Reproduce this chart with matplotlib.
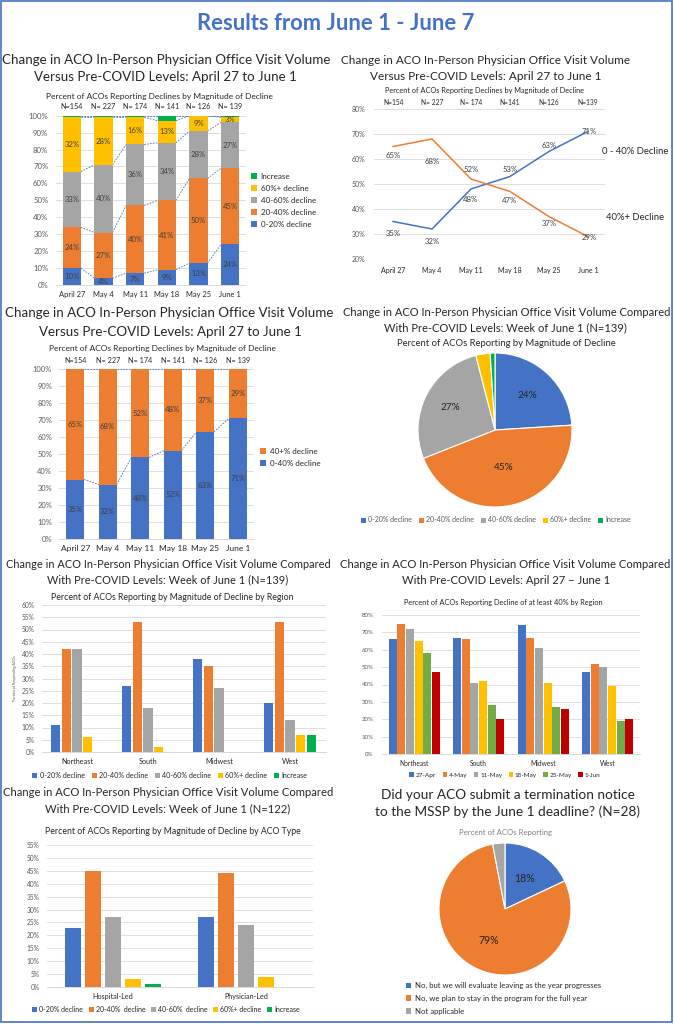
import matplotlib
matplotlib.use('Agg')
import matplotlib.pyplot as plt
from matplotlib.patches import Patch, Rectangle
import numpy as np

W, H = 674, 1024
plt.rcParams['font.family'] = ['Lato', 'DejaVu Sans']

# ---------------- data ----------------
weeks = ['April 27', 'May 4', 'May 11', 'May 18', 'May 25', 'June 1']
n_labels = ['N=154', 'N= 227', 'N= 174', 'N= 141', 'N= 126', 'N= 139']
n_labels_line = ['N=154', 'N= 227', 'N= 174', 'N=141', 'N=126', 'N=139']

mag_series = ['0-20% decline', '20-40% decline', '40-60% decline', '60%+ decline', 'Increase']
mag_0_20 = [10, 4, 7, 9, 13, 24]
mag_20_40 = [24, 27, 40, 41, 50, 45]
mag_40_60 = [33, 40, 36, 34, 28, 27]
mag_60_plus = [32, 28, 16, 13, 9, 3]
mag_increase = [1, 1, 1, 3, 0, 1]

line_series = ['0 - 40% Decline', '40%+ Decline']
line_0_40 = [35, 32, 48, 53, 63, 71]
line_40_plus = [65, 68, 52, 47, 37, 29]

bar2_series = ['0-40% decline', '40+% decline']
bar_0_40 = [35, 32, 48, 52, 63, 71]
bar_40_plus = [65, 68, 52, 48, 37, 29]

pie_june1 = [24, 45, 27, 3, 1]

regions = ['Northeast', 'South', 'Midwest', 'West']
reg_0_20 = [11, 27, 38, 20]
reg_20_40 = [42, 53, 35, 53]
reg_40_60 = [42, 18, 26, 13]
reg_60_plus = [6, 2, 0, 7]
reg_increase = [0, 0, 0, 7]

weeks_short = ['27-Apr', '4-May', '11-May', '18-May', '25-May', '1-Jun']
reg40_27apr = [66, 67, 74, 47]
reg40_4may = [75, 66, 67, 52]
reg40_11may = [72, 41, 61, 50]
reg40_18may = [65, 42, 41, 39]
reg40_25may = [58, 28, 27, 19]
reg40_1jun = [47, 20, 26, 20]

aco_types = ['Hospital-Led', 'Physician-Led']
type_series = ['0-20% decline', '20-40%  decline', '40-60%  decline', '60%+ decline', 'Increase']
type_0_20 = [23, 27]
type_20_40 = [45, 44]
type_40_60 = [27, 24]
type_60_plus = [3, 4]
type_increase = [1, 0]

term_labels = ['No, but we will evaluate leaving as the year progresses',
               'No, we plan to stay in the program for the full year',
               'Not applicable']
term_values = [18, 79, 3]

# ---------------- style ----------------
BLUE, ORANGE, GRAY, YELLOW = '#4472C4', '#ED7D31', '#A5A5A5', '#FFC000'
GREEN, LGREEN, RED = '#00B050', '#70AD47', '#C00000'
TXT, TICK, GRID = '#262626', '#595959', '#D9D9D9'
mag_colors = [BLUE, ORANGE, GRAY, YELLOW, GREEN]

fig = plt.figure(figsize=(W / 100, H / 100), dpi=100)
renderer = fig.canvas.get_renderer()


def fx(x):
    return x / W


def fy(y):
    return 1 - y / H


def add_ax(x0, y0, x1, y1):
    return fig.add_axes([x0 / W, 1 - y1 / H, (x1 - x0) / W, (y1 - y0) / H])


def ftext(x, y, s, size, width=None, **kw):
    kw.setdefault('ha', 'center')
    kw.setdefault('va', 'center')
    kw.setdefault('color', TXT)
    t = fig.text(fx(x), fy(y), s, fontsize=size, **kw)
    if width:
        w = t.get_window_extent(renderer).width
        t.set_fontsize(size * width / w)
    return t


def title2(cx1, y1, s1, w1, cx2, y2, s2, **kw):
    t = ftext(cx1, y1, s1, 10, width=w1, **kw)
    ftext(cx2, y2, s2, t.get_fontsize(), **kw)


def style_ax(ax, ticks, fs=5.0, pad=5):
    for s in ax.spines.values():
        s.set_visible(False)
    ax.spines['bottom'].set_visible(True)
    ax.spines['bottom'].set_color(GRID)
    ax.spines['bottom'].set_linewidth(0.7)
    ax.set_yticks(ticks)
    ax.set_yticklabels([f'{t}%' for t in ticks], fontsize=fs, color=TICK)
    ax.tick_params(axis='y', length=0, pad=pad)
    ax.tick_params(axis='x', length=0)
    ax.yaxis.grid(True, color=GRID, lw=0.6)
    ax.set_axisbelow(True)


def sq_handles(colors):
    return [Patch(facecolor=c, edgecolor='none') for c in colors]


# ---------------- main title + border ----------------
ftext(336, 23, 'Results from June 1 - June 7', 16, width=277, weight='bold',
      color=BLUE, family=['Liberation Sans Narrow', 'Lato', 'DejaVu Sans'])
fig.patches.append(Rectangle((fx(1), fy(1022)), (671) / W, 1021 / H, transform=fig.transFigure,
                             fill=False, edgecolor=BLUE, lw=1.2))

# ---------------- panel 1: stacked magnitude ----------------
title2(166.5, 60, 'Change in ACO In-Person Physician Office Visit Volume', 327,
       165.5, 77, 'Versus Pre-COVID Levels: April 27 to June 1')
ftext(159, 97, 'Percent of ACOs Reporting Declines by Magnitude of Decline', 6, width=228)
ax1 = add_ax(56, 115.7, 246, 285)
x = np.arange(len(weeks))
bw = 0.57
series1 = [mag_0_20, mag_20_40, mag_40_60, mag_60_plus, mag_increase]
bottom = np.zeros(len(weeks))
cums = []
for vals, col in zip(series1, mag_colors):
    v = np.array(vals, float)
    ax1.bar(x, v, bw, bottom=bottom, color=col, zorder=3)
    bottom = bottom + v
    cums.append(bottom.copy())
bottom = np.zeros(len(weeks))
for k, vals in enumerate(series1[:4]):
    v = np.array(vals, float)
    for i in range(len(weeks)):
        ax1.text(x[i], bottom[i] + v[i] / 2, f'{vals[i]}%', ha='center', va='center',
                 fontsize=5.6, color='#404040', zorder=4)
    bottom = bottom + v
for c in cums:
    for i in range(len(weeks) - 1):
        ax1.plot([x[i] + bw / 2, x[i + 1] - bw / 2], [c[i], c[i + 1]], ls=(0, (2, 1.5)),
                 color=BLUE, lw=0.6, zorder=2)
ax1.set_xlim(-0.5, 5.5)
ax1.set_ylim(0, 100)
style_ax(ax1, list(range(0, 101, 10)), fs=5.6, pad=5.5)
ax1.set_xticks(x)
ax1.set_xticklabels(weeks, fontsize=5.4, color=TXT)
ax1.tick_params(axis='x', pad=4)
for i, n in enumerate(n_labels):
    ax1.annotate(n, (x[i], 100), xytext=(0, 6.3), textcoords='offset points',
                 ha='center', va='center', fontsize=5.2, color=TXT, annotation_clip=False)
fig.legend(sq_handles(mag_colors[::-1]), mag_series[::-1], loc='upper left',
           bbox_to_anchor=(fx(251), fy(173)), fontsize=5.8, frameon=False,
           handlelength=0.8, handleheight=0.8, handletextpad=0.4, labelspacing=0.62,
           borderpad=0, borderaxespad=0, labelcolor=TXT)

# ---------------- panel 2: line chart ----------------
title2(485.5, 61, 'Change in ACO In-Person Physician Office Visit Volume', 289,
       486, 77, 'Versus Pre-COVID Levels: April 27 to June 1')
ftext(485, 91, 'Percent of ACOs Reporting Declines by Magnitude of Decline', 6, width=200)
ax2 = add_ax(374, 109, 605, 259)
ax2.plot(x, line_0_40, color=BLUE, lw=1.1, zorder=3)
ax2.plot(x, line_40_plus, color=ORANGE, lw=1.1, zorder=3)
off_blue = [-12.5, -13, -10, 6.5, 6.5, 0.5]
off_orange = [-8.5, -22, 9, -9, -6.5, -0.5]
for i in range(len(weeks)):
    ax2.annotate(f'{line_0_40[i]}%', (x[i], line_0_40[i]), xytext=(1 if i == 5 else 0, off_blue[i] * 0.72),
                 textcoords='offset points', ha='center', va='center', fontsize=5.6, color='#404040')
    ax2.annotate(f'{line_40_plus[i]}%', (x[i], line_40_plus[i]), xytext=(1 if i == 5 else 0, off_orange[i] * 0.72),
                 textcoords='offset points', ha='center', va='center', fontsize=5.6, color='#404040')
ax2.set_xlim(-0.49, 5.44)
ax2.set_ylim(20, 80)
style_ax(ax2, list(range(20, 81, 10)), fs=5.0, pad=6)
ax2.spines['bottom'].set_visible(False)
ax2.set_xticks(x)
ax2.set_xticklabels(weeks, fontsize=5.0, color=TXT)
ax2.tick_params(axis='x', pad=6)
for i, n in enumerate(n_labels_line):
    ax2.annotate(n, (x[i], 80), xytext=(0, 5), textcoords='offset points',
                 ha='center', va='center', fontsize=4.8, color=TXT, annotation_clip=False)
ftext(602, 151, line_series[0], 6.8, ha='left')
ftext(606, 218, line_series[1], 6.8, ha='left')

# ---------------- panel 3: stacked 2-series ----------------
title2(169, 313, 'Change in ACO In-Person Physician Office Visit Volume', 328,
       170, 332, 'Versus Pre-COVID Levels: April 27 to June 1')
ftext(162.5, 349, 'Percent of ACOs Reporting Declines by Magnitude of Decline', 6, width=229)
ax3 = add_ax(59, 369, 254, 539)
bw3 = 0.54
b0 = np.array(bar_0_40, float)
b1 = np.array(bar_40_plus, float)
ax3.bar(x, b0, bw3, color=BLUE, zorder=3)
ax3.bar(x, b1, bw3, bottom=b0, color=ORANGE, zorder=3)
for i in range(len(weeks)):
    ax3.text(x[i], b0[i] / 2, f'{bar_0_40[i]}%', ha='center', va='center', fontsize=5.6, color='#404040', zorder=4)
    ax3.text(x[i], b0[i] + b1[i] / 2, f'{bar_40_plus[i]}%', ha='center', va='center', fontsize=5.6, color='#404040', zorder=4)
for c in [b0, b0 + b1]:
    for i in range(len(weeks) - 1):
        ax3.plot([x[i] + bw3 / 2, x[i + 1] - bw3 / 2], [c[i], c[i + 1]], ls=(0, (2, 1.5)),
                 color=BLUE, lw=0.6, zorder=2)
ax3.set_xlim(-0.5, 5.5)
ax3.set_ylim(0, 100)
style_ax(ax3, list(range(0, 101, 10)), fs=5.4, pad=5)
ax3.set_xticks(x)
ax3.set_xticklabels(weeks, fontsize=6.0, color=TXT)
ax3.tick_params(axis='x', pad=4)
for i, n in enumerate(n_labels):
    ax3.annotate(n, (x[i], 100), xytext=(0, 6.3), textcoords='offset points',
                 ha='center', va='center', fontsize=5.2, color=TXT, annotation_clip=False)
fig.legend(sq_handles([ORANGE, BLUE]), bar2_series[::-1], loc='upper left',
           bbox_to_anchor=(fx(260), fy(448)), fontsize=5.8, frameon=False,
           handlelength=0.8, handleheight=0.8, handletextpad=0.4, labelspacing=0.62,
           borderpad=0, borderaxespad=0, labelcolor=TXT)

# ---------------- panel 4: pie week of June 1 ----------------
title2(506.5, 313, 'Change in ACO In-Person Physician Office Visit Volume Compared', 325,
       505.7, 328, 'With Pre-COVID Levels: Week of June 1 (N=139)')
ftext(506, 343, 'Percent of ACOs Reporting by Magnitude of Decline', 6, width=220)
ax4 = add_ax(495 - 77, 430 - 77, 495 + 77, 430 + 77)
ax4.pie(pie_june1, colors=mag_colors, startangle=90, counterclock=False,
        wedgeprops=dict(edgecolor='white', linewidth=0.8))
ax4.set_xlim(-1, 1)
ax4.set_ylim(-1, 1)
ax4.set_aspect('equal')
dists = [0.62, 0.5, 0.65]
tot = sum(pie_june1)
start = 0
for k in range(3):
    mid = 90 - (start + pie_june1[k] / 2) / tot * 360
    r = dists[k]
    ax4.text(r * np.cos(np.radians(mid)), r * np.sin(np.radians(mid)), f'{pie_june1[k]}%',
             ha='center', va='center', fontsize=7.2, color=TXT)
    start += pie_june1[k]
fig.legend(sq_handles(mag_colors), mag_series, loc='center',
           bbox_to_anchor=(fx(496), fy(520)), ncol=5, fontsize=5.0, frameon=False,
           handlelength=0.7, handleheight=0.7, handletextpad=0.3, columnspacing=1.0,
           borderpad=0, borderaxespad=0, labelcolor=TICK)

# ---------------- panel 5: region grouped ----------------
title2(168.5, 565, 'Change in ACO In-Person Physician Office Visit Volume Compared', 323,
       168, 580, 'With Pre-COVID Levels: Week of June 1 (N=139)')
ftext(172, 598, 'Percent of ACOs Reporting by Magnitude of Decline by Region', 6, width=244)
ax5 = add_ax(41.5, 605, 325.5, 752)
xr = np.arange(len(regions))
series5 = [reg_0_20, reg_20_40, reg_40_60, reg_60_plus, reg_increase]
for k, (vals, col) in enumerate(zip(series5, mag_colors)):
    ax5.bar(xr + (k - 2) * 0.152, vals, 0.127, color=col, zorder=3)
ax5.set_xlim(-0.5, 3.5)
ax5.set_ylim(0, 60)
style_ax(ax5, list(range(0, 61, 5)), fs=4.8, pad=5)
ax5.set_xticks(xr)
ax5.set_xticklabels(regions, fontsize=5.2, color=TXT)
ax5.tick_params(axis='x', pad=4)
ftext(15, 678, 'Portion of Responding ACOs', 2.6, rotation=90, color=TICK)
fig.legend(sq_handles(mag_colors), mag_series, loc='center',
           bbox_to_anchor=(fx(170), fy(775)), ncol=5, fontsize=5.1, frameon=False,
           handlelength=0.7, handleheight=0.7, handletextpad=0.3, columnspacing=1.0,
           borderpad=0, borderaxespad=0, labelcolor=TXT)

# ---------------- panel 6: region decline >=40% over weeks ----------------
title2(505, 565, 'Change in ACO In-Person Physician Office Visit Volume Compared', 330,
       505.8, 580, 'With Pre-COVID Levels: April 27 \u2013 June 1')
ftext(503, 603, 'Percent of ACOs Reporting Decline of at least 40% by Region', 6, width=202)
ax6 = add_ax(382, 615, 640, 754)
series6 = [reg40_27apr, reg40_4may, reg40_11may, reg40_18may, reg40_25may, reg40_1jun]
colors6 = [BLUE, ORANGE, GRAY, YELLOW, LGREEN, RED]
for k, (vals, col) in enumerate(zip(series6, colors6)):
    ax6.bar(xr + (k - 2.5) * 0.134, vals, 0.124, color=col, zorder=3)
ax6.set_xlim(-0.5, 3.5)
ax6.set_ylim(0, 80)
style_ax(ax6, list(range(0, 81, 10)), fs=4.4, pad=6)
ax6.set_xticks(xr)
ax6.set_xticklabels(regions, fontsize=4.8, color=TXT)
ax6.tick_params(axis='x', pad=4)
fig.legend(sq_handles(colors6), weeks_short, loc='center',
           bbox_to_anchor=(fx(505), fy(775)), ncol=6, fontsize=4.6, frameon=False,
           handlelength=0.7, handleheight=0.7, handletextpad=0.3, columnspacing=1.0,
           borderpad=0, borderaxespad=0, labelcolor=TXT)

# ---------------- panel 7: ACO type ----------------
title2(168, 793, 'Change in ACO In-Person Physician Office Visit Volume Compared', 330,
       168, 809, 'With Pre-COVID Levels: Week of June 1 (N=122)')
ftext(172.5, 831, 'Percent of ACOs Reporting by Magnitude of Decline by ACO Type', 6, width=259)
ax7 = add_ax(46.5, 845, 312.5, 987)
xt = np.arange(len(aco_types))
series7 = [type_0_20, type_20_40, type_40_60, type_60_plus, type_increase]
for k, (vals, col) in enumerate(zip(series7, mag_colors)):
    ax7.bar(xt + (k - 2) * 0.15, vals, 0.12, color=col, zorder=3)
ax7.set_xlim(-0.5, 1.5)
ax7.set_ylim(0, 55)
style_ax(ax7, list(range(0, 56, 5)), fs=4.8, pad=5)
ax7.set_xticks(xt)
ax7.set_xticklabels(aco_types, fontsize=5.2, color=TXT)
ax7.tick_params(axis='x', pad=4)
fig.legend(sq_handles(mag_colors), type_series, loc='center',
           bbox_to_anchor=(fx(166), fy(1009)), ncol=5, fontsize=5.0, frameon=False,
           handlelength=0.7, handleheight=0.7, handletextpad=0.3, columnspacing=0.8,
           borderpad=0, borderaxespad=0, labelcolor=TXT)

# ---------------- panel 8: termination pie ----------------
title2(508, 795, 'Did your ACO submit a termination notice', 253,
       507.7, 812, 'to the MSSP by the June 1 deadline? (N=28)')
ftext(505.5, 832, 'Percent of ACOs Reporting', 6, width=93, color='#7F7F7F')
ax8 = add_ax(505 - 66, 909 - 66, 505 + 66, 909 + 66)
ax8.pie(term_values, colors=[BLUE, ORANGE, GRAY], startangle=90, counterclock=False,
        wedgeprops=dict(edgecolor='white', linewidth=0.8))
ax8.set_xlim(-1, 1)
ax8.set_ylim(-1, 1)
ax8.set_aspect('equal')
tot8 = sum(term_values)
start = 0
for k in range(2):
    mid = 90 - (start + term_values[k] / 2) / tot8 * 360
    r = 0.54
    ax8.text(r * np.cos(np.radians(mid)), r * np.sin(np.radians(mid)), f'{term_values[k]}%',
             ha='center', va='center', fontsize=7.6, color=TXT)
    start += term_values[k]
fig.legend(sq_handles([BLUE, ORANGE, GRAY]), term_labels, loc='upper left',
           bbox_to_anchor=(fx(406), fy(982)), ncol=1, fontsize=5.6, frameon=False,
           handlelength=0.7, handleheight=0.7, handletextpad=0.4, labelspacing=0.75,
           borderpad=0, borderaxespad=0, labelcolor=TXT)

fig.savefig('out.png', dpi=100)
